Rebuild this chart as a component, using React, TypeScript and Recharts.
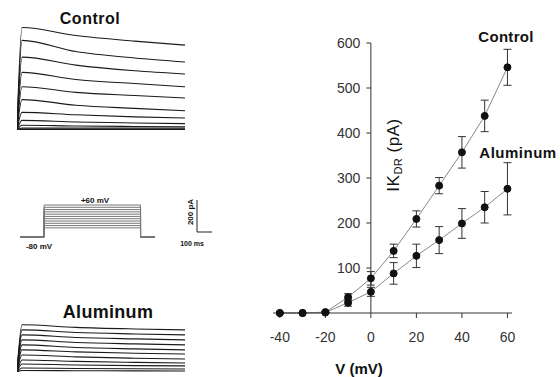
import React from 'react';
import { ComposedChart, LineChart, Line, XAxis, YAxis, ErrorBar, ReferenceLine } from 'recharts';

const FONT = '"Liberation Sans", Arial, Helvetica, sans-serif';

// I-V data
const voltages = [-40, -30, -20, -10, 0, 10, 20, 30, 40, 50, 60];
const controlMean = [0, 0, 2, 35, 77, 138, 209, 283, 357, 438, 546];
const controlSem = [0, 0, 2, 8, 15, 15, 18, 18, 35, 35, 40];
const aluminumMean = [0, 0, 1, 23, 47, 88, 127, 162, 199, 235, 276];
const aluminumSem = [0, 0, 1, 8, 10, 24, 26, 30, 33, 35, 58];
const xTicks = [-40, -20, 0, 20, 40, 60];
const yTicks = [100, 200, 300, 400, 500, 600];

// current traces (pA) at sample times
const traceTimes = [0, 3, 35, 70, 100];
const controlTraces = [
  [640, 590, 555, 530],
  [560, 490, 450, 425],
  [455, 405, 370, 350],
  [360, 315, 290, 270],
  [270, 235, 215, 200],
  [190, 155, 135, 120],
  [110, 95, 82, 75],
  [60, 50, 44, 40],
  [30, 25, 22, 20],
  [12, 12, 12, 12],
  [4, 4, 4, 4],
];
const aluminumTraces = [
  [294, 278, 268, 262],
  [262, 246, 237, 231],
  [231, 215, 206, 200],
  [200, 184, 175, 169],
  [169, 153, 144, 138],
  [138, 125, 117, 112],
  [106, 94, 86, 81],
  [75, 66, 60, 56],
  [50, 44, 40, 38],
  [25, 22, 20, 19],
  [9, 8, 7, 6],
];

// voltage protocol
const protocolLevels = [-40, -30, -20, -10, 0, 10, 20, 30, 40, 50, 60];
const protocolTimes = [0, 25, 125, 140];
const holdingPotential = -80;

const ivData = voltages.map((v, i) => ({
  v,
  control: controlMean[i],
  controlErr: controlSem[i],
  aluminum: aluminumMean[i],
  aluminumErr: aluminumSem[i],
}));

function buildTraceRows(traces: number[][]) {
  return traceTimes.map((t, i) => {
    const row: Record<string, number> = { t };
    traces.forEach((tr, j) => {
      row['s' + j] = i === 0 ? 0 : tr[i - 1];
    });
    return row;
  });
}
const controlRows = buildTraceRows(controlTraces);
const aluminumRows = buildTraceRows(aluminumTraces);

const protocolRows = protocolTimes.map((t, i) => {
  const row: Record<string, number> = { t };
  protocolLevels.forEach((lv, j) => {
    row['p' + j] = i === 1 ? lv : holdingPotential;
  });
  return row;
});

function Traces({ rows, count, max, width, height }: { rows: any[]; count: number; max: number; width: number; height: number }) {
  return (
    <LineChart width={width} height={height} data={rows} margin={{ top: 0, right: 0, left: 0, bottom: 0 }}>
      <XAxis dataKey="t" type="number" domain={[0, 100]} hide />
      <YAxis domain={[0, max]} hide allowDataOverflow />
      {Array.from({ length: count }).map((_, j) => (
        <Line
          key={j}
          dataKey={'s' + j}
          type="monotone"
          stroke="#1a1a1a"
          strokeWidth={1.1}
          dot={false}
          isAnimationActive={false}
        />
      ))}
    </LineChart>
  );
}

export default function App() {
  return (
    <div style={{ position: 'absolute', left: 0, top: 0, width: 560, height: 377, background: '#fff', fontFamily: FONT }}>
      <div style={{ position: 'absolute', left: 0, top: 0 }}>
        <ComposedChart width={560} height={377} data={ivData} margin={{ top: 43, right: 48, left: 273, bottom: 0 }}>
          <XAxis
            dataKey="v"
            type="number"
            domain={[-43, 62]}
            ticks={xTicks}
            axisLine={{ stroke: '#333' }}
            tickLine={{ stroke: '#333' }}
            tickSize={5}
            tickMargin={14}
            tick={{ fontSize: 14, fill: '#333', fontFamily: FONT }}
            height={64}
          />
          <YAxis hide domain={[0, 600]} />
          <ReferenceLine x={0} stroke="#333" />
          {yTicks.map((t) => (
            <ReferenceLine
              key={t}
              segment={[{ x: -2, y: t }, { x: 0, y: t }]}
              stroke="#333"
              label={{ value: String(t), position: 'left', fontSize: 14, fill: '#333', offset: 6, fontFamily: FONT }}
            />
          ))}
          <Line dataKey="control" type="linear" stroke="#888" strokeWidth={1} dot={{ r: 3.5, fill: '#111', stroke: '#111' }} isAnimationActive={false}>
            <ErrorBar dataKey="controlErr" width={4} stroke="#333" strokeWidth={1} direction="y" />
          </Line>
          <Line dataKey="aluminum" type="linear" stroke="#888" strokeWidth={1} dot={{ r: 3.5, fill: '#111', stroke: '#111' }} isAnimationActive={false}>
            <ErrorBar dataKey="aluminumErr" width={4} stroke="#333" strokeWidth={1} direction="y" />
          </Line>
        </ComposedChart>
      </div>

      <div style={{ position: 'absolute', left: 17, top: 24 }}>
        <Traces rows={controlRows} count={controlTraces.length} max={662} width={168} height={106} />
      </div>
      <div style={{ position: 'absolute', left: 17, top: 319 }}>
        <Traces rows={aluminumRows} count={aluminumTraces.length} max={330} width={168} height={53} />
      </div>

      <div style={{ position: 'absolute', left: 20, top: 203 }}>
        <LineChart width={135} height={36} data={protocolRows} margin={{ top: 2, right: 0, left: 0, bottom: 2 }}>
          <XAxis dataKey="t" type="number" domain={[0, 140]} hide />
          <YAxis domain={[-80, 60]} hide />
          {protocolLevels.map((_, j) => (
            <Line key={j} dataKey={'p' + j} type="stepAfter" stroke="#777" strokeWidth={1} dot={false} isAnimationActive={false} />
          ))}
        </LineChart>
      </div>

      <svg width={560} height={377} style={{ position: 'absolute', left: 0, top: 0, pointerEvents: 'none' }}>
        <g fontFamily={FONT} fill="#111">
          <text x={90} y={24} textAnchor="middle" fontSize={16} fontWeight="bold" letterSpacing={0.5}>Control</text>
          <text x={108} y={318} textAnchor="middle" fontSize={18} fontWeight="bold" letterSpacing={0.3}>Aluminum</text>
          <text x={95} y={203} textAnchor="middle" fontSize={8} fontWeight="bold">+60 mV</text>
          <text x={39} y={249} textAnchor="middle" fontSize={8} fontWeight="bold">-80 mV</text>
          <text x={192} y={246} textAnchor="middle" fontSize={7} fontWeight="bold">100 ms</text>
          <text transform="translate(193,212) rotate(-90)" textAnchor="middle" fontSize={8} fontWeight="bold">200 pA</text>
          <text x={506} y={42} textAnchor="middle" fontSize={15} fontWeight="bold" letterSpacing={0.3}>Control</text>
          <text x={518} y={158} textAnchor="middle" fontSize={15} fontWeight="bold" letterSpacing={0.5}>Aluminum</text>
          <text x={359} y={374} textAnchor="middle" fontSize={15} fontWeight="bold">V (mV)</text>
          <text transform="translate(399,155) rotate(-90)" textAnchor="middle" fontSize={17} letterSpacing={0.5}>
            <tspan>IK</tspan>
            <tspan fontSize={11} dy={3}>DR</tspan>
            <tspan dy={-3}> (pA)</tspan>
          </text>
        </g>
        <g stroke="#222" strokeWidth={1}>
          <line x1={197} y1={200} x2={197} y2={232} />
          <line x1={197} y1={232} x2={212} y2={232} />
        </g>
      </svg>
    </div>
  );
}
